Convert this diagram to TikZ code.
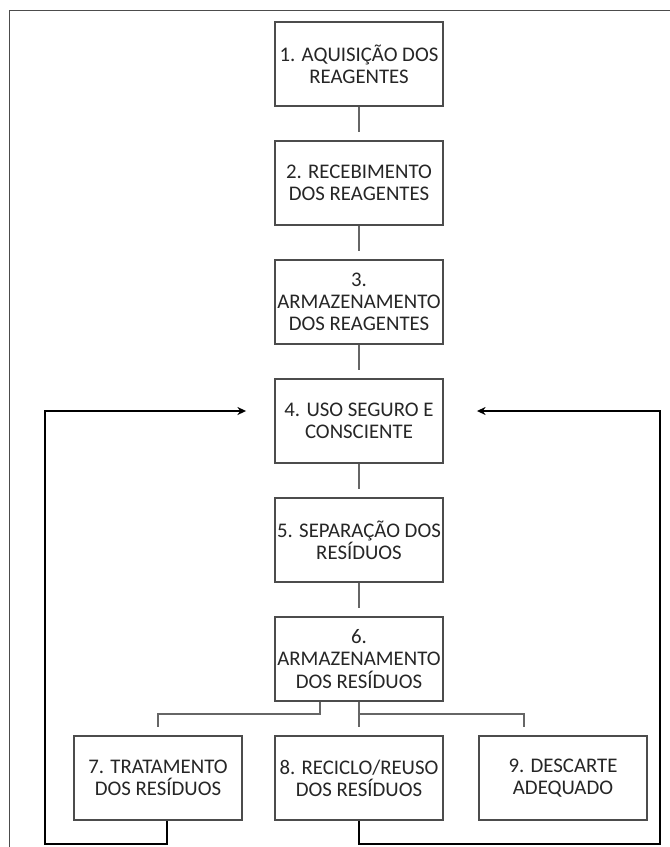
\documentclass[tikz,border=0pt]{standalone}
\usepackage{fontspec}
\setmainfont{Carlito}
\usetikzlibrary{arrows.meta,positioning}

\begin{document}
\begin{tikzpicture}[x=0.75pt,y=-0.75pt,>={Stealth[length=6.5pt,width=6pt]},node distance=89.25pt,
  flow node/.style={rectangle,draw=black!70,line width=1.4pt,fill=white,
    minimum width=126pt,minimum height=63pt,inner sep=0pt,align=center,
    text=black!85,font=\fontsize{15.6pt}{16.7pt}\selectfont},
  link/.style={draw=black!60,line width=2pt,shorten >=6pt},
  back/.style={->,draw=black,line width=1.3pt}]

  \useasboundingbox (0,0) rectangle (670,847);
  \draw[black!70,line width=0.8pt] (9.5,847) -- (9.5,10.5) -- (670,10.5);

  \node[flow node] (1) at (359,64) {1. AQUISIÇÃO DOS\\REAGENTES};
  \node[flow node] (2) [below of=1] {2. RECEBIMENTO\\DOS REAGENTES};
  \node[flow node] (3) [below of=2] {3.\\ARMAZENAMENTO\\DOS REAGENTES};
  \node[flow node] (4) [below of=3] {4. USO SEGURO E\\CONSCIENTE};
  \node[flow node] (5) [below of=4] {5. SEPARAÇÃO DOS\\RESÍDUOS};
  \node[flow node] (6) [below of=5] {6.\\ARMAZENAMENTO\\DOS RESÍDUOS};
  \node[flow node] (8) [below of=6] {8. RECICLO/REUSO\\DOS RESÍDUOS};
  \node[flow node] (7) [left of=8,node distance=150.75pt] {7. TRATAMENTO\\DOS RESÍDUOS};
  \node[flow node] (9) [right of=8,node distance=153pt] {9. DESCARTE\\ADEQUADO};

  \coordinate (jl) at (320,714);
  \coordinate (jr) at (524,714);
  \coordinate (tl) at (167,844);
  \coordinate (cl) at (45,844);
  \coordinate (cr) at (660,844);

  \path[link] (1) edge (2)
              (2) edge (3)
              (3) edge (4)
              (4) edge (5)
              (5) edge (6)
              (6) edge (8);

  % branches under box 6
  \draw[link] (6.south -| jl) -- (jl) -| (7.north);
  \draw[link] (6.south |- jl) -| (jr |- 9.north);

  % feedback to box 4
  \draw[back] (7.south -| tl) -- (tl) -- (cl) |- ([xshift=-21pt,yshift=7.5pt]4.west);
  \draw[back] (8.south) |- (cr) |- ([xshift=24.75pt,yshift=7.5pt]4.east);

\end{tikzpicture}
\end{document}
